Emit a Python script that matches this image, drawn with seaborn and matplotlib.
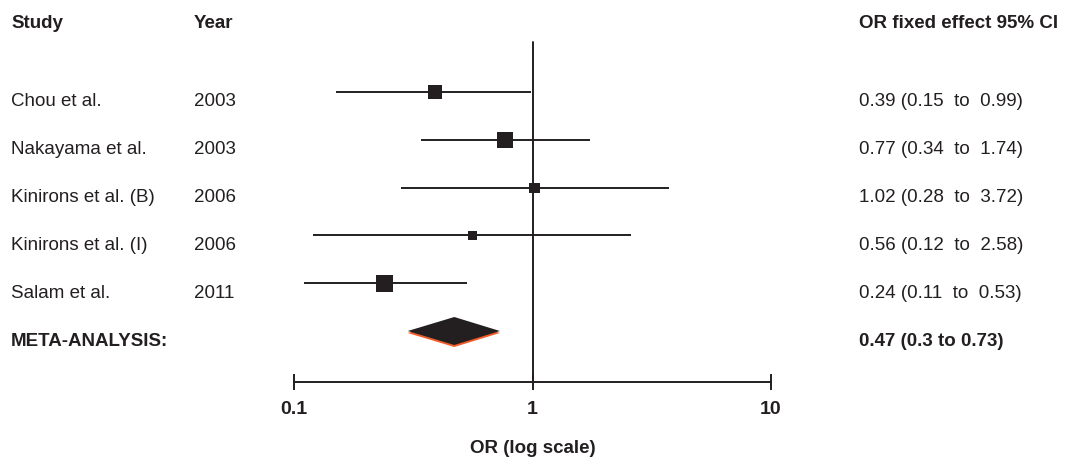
import matplotlib

matplotlib.use("Agg")
import matplotlib.pyplot as plt
import matplotlib.transforms as mtransforms
import pandas as pd
import seaborn as sns
from matplotlib.patches import Polygon
from matplotlib.ticker import NullLocator

studies = ["Chou et al.", "Nakayama et al.", "Kinirons et al. (B)", "Kinirons et al. (I)", "Salam et al."]
years = [2003, 2003, 2006, 2006, 2011]
odds_ratio = [0.39, 0.77, 1.02, 0.56, 0.24]
ci_low = [0.15, 0.34, 0.28, 0.12, 0.11]
ci_high = [0.99, 1.74, 3.72, 2.58, 0.53]
# fixed effect weights (%)
weights = [21.4, 28.5, 11.4, 8.1, 30.7]
pooled_or, pooled_low, pooled_high = 0.47, 0.30, 0.73
x_ticks = [0.1, 1, 10]
x_tick_labels = ["0.1", "1", "10"]

INK = "#231f20"
ORANGE = "#f15a29"
W, H = 1073, 457
ROW_PX = 47.8
TEXT_SHIFT = 10 / ROW_PX

df = pd.DataFrame({
    "study": studies,
    "year": years,
    "or": odds_ratio,
    "low": ci_low,
    "high": ci_high,
    "weight": weights,
})
df["row"] = range(len(df))
meta_row = len(df)

sns.set_style("white")
plt.rcParams["font.family"] = ["Liberation Sans", "DejaVu Sans"]
plt.rcParams["font.size"] = 13.5

fig = plt.figure(figsize=(W / 100, H / 100), dpi=100)
ax = fig.add_axes([294 / W, 1 - 382 / H, (771 - 294) / W, 382 / H])
ax.set_xscale("log")
ax.set_xlim(0.1, 10)
ax.set_ylim((382 - 92) / ROW_PX, -92 / ROW_PX)

# confidence intervals and weighted boxes
ax.hlines(df["row"], df["low"], df["high"], color=INK, lw=1.4, zorder=2)
k = 4.73
sns.scatterplot(
    data=df, x="or", y="row", size="weight",
    sizes=(min(weights) * k, max(weights) * k),
    marker="s", color=INK, edgecolor=INK, linewidth=0,
    legend=False, ax=ax, zorder=3,
)

# line of no effect
ax.axvline(1, ymin=0, ymax=(382 - 42) / 382, color=INK, lw=1.4, zorder=1)

# pooled diamond with orange shadow
h = 14 / ROW_PX
off = 2 / ROW_PX
shadow = Polygon(
    [(pooled_low, meta_row + off), (pooled_or, meta_row - h + off),
     (pooled_high, meta_row + off), (pooled_or, meta_row + h + off)],
    closed=True, facecolor=ORANGE, edgecolor="none", zorder=3,
)
diamond = Polygon(
    [(pooled_low, meta_row), (pooled_or, meta_row - h),
     (pooled_high, meta_row), (pooled_or, meta_row + h)],
    closed=True, facecolor=INK, edgecolor="none", zorder=4,
)
ax.add_patch(shadow)
ax.add_patch(diamond)

# axis styling
for side in ["top", "left", "right"]:
    ax.spines[side].set_visible(False)
ax.spines["bottom"].set_color(INK)
ax.spines["bottom"].set_linewidth(1.4)
ax.set_yticks([])
ax.set_ylabel("")
ax.set_xticks(x_ticks, x_tick_labels)
ax.xaxis.set_minor_locator(NullLocator())
ax.tick_params(axis="x", bottom=True, direction="inout", length=11, width=1.4, color=INK,
               pad=8, labelsize=14, labelcolor=INK)
plt.setp(ax.get_xticklabels(), fontweight="bold")
ax.set_xlabel("OR (log scale)", fontweight="bold", fontsize=13.5, labelpad=16, color=INK)

# text columns
trans = mtransforms.blended_transform_factory(fig.transFigure, ax.transData)
x_study, x_year, x_ci = 11 / W, 194 / W, 859 / W
head_row = (24 - 92) / ROW_PX
txt = dict(transform=trans, va="center", ha="left", clip_on=False, color=INK)
ax.text(x_study, head_row, "Study", fontweight="bold", **txt)
ax.text(x_year, head_row, "Year", fontweight="bold", **txt)
ax.text(x_ci, head_row, "OR fixed effect 95% CI", fontweight="bold", **txt)

for _, r in df.iterrows():
    y = r["row"] + TEXT_SHIFT
    ax.text(x_study, y, r["study"], **txt)
    ax.text(x_year, y, str(r["year"]), **txt)
    ax.text(x_ci, y, f"{r['or']:.2f} ({r['low']:.2f}  to  {r['high']:.2f})", **txt)

ax.text(x_study, meta_row + TEXT_SHIFT, "META-ANALYSIS:", fontweight="bold", **txt)
ax.text(x_ci, meta_row + TEXT_SHIFT, f"{pooled_or:.2f} ({pooled_low:g} to {pooled_high:.2f})",
        fontweight="bold", **txt)

fig.savefig("out.png", dpi=100)
plt.close(fig)
